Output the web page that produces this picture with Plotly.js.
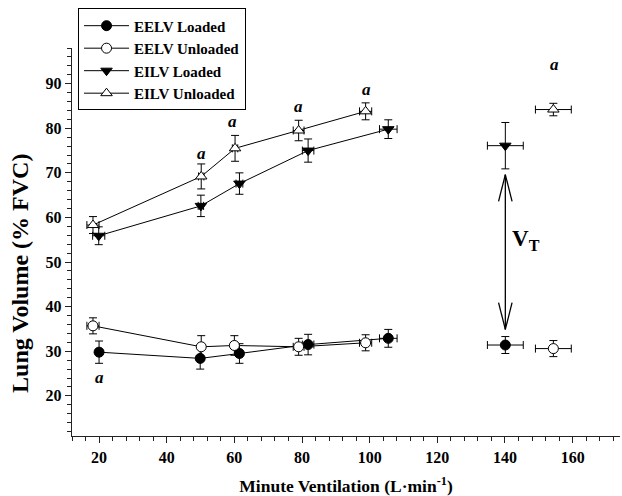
<!DOCTYPE html>
<html>
<head>
<meta charset="utf-8">
<script src="https://cdn.plot.ly/plotly-3.0.1.min.js"></script>
<style>html,body{margin:0;padding:0;background:#fff}#chart{width:622px;height:496px}</style>
</head>
<body>
<div id="chart"></div>
<script>
// ---- data ----
const seriesNames = ["EELV Loaded", "EELV Unloaded", "EILV Loaded", "EILV Unloaded"];

const eelvLoadedX   = [20.0, 49.9, 61.5, 81.8, 105.5];
const eelvLoadedY   = [29.8, 28.4, 29.5, 31.5, 32.9];
const eelvLoadedYErr = [2.5, 2.4, 2.2, 2.3, 2.0];
const eelvLoadedXErr = [0.6, 0.6, 0.8, 1.7, 2.6];

const eelvUnloadedX = [18.2, 50.2, 60.0, 79.0, 98.8];
const eelvUnloadedY = [35.7, 31.0, 31.3, 31.0, 31.9];
const eelvUnloadedYErr = [1.8, 2.5, 2.2, 1.9, 1.8];
const eelvUnloadedXErr = [1.8, 0.6, 0.8, 1.6, 1.8];

const eilvLoadedX   = [19.9, 50.1, 61.5, 81.8, 105.5];
const eilvLoadedY   = [55.9, 62.6, 67.6, 75.0, 79.8];
const eilvLoadedYErr = [2.0, 2.4, 2.4, 2.6, 2.1];
const eilvLoadedXErr = [1.8, 0.8, 1.0, 1.7, 2.6];

const eilvUnloadedX = [18.2, 50.2, 60.2, 79.0, 98.8];
const eilvUnloadedY = [58.3, 69.2, 75.5, 79.5, 83.8];
const eilvUnloadedYErr = [1.9, 2.8, 2.9, 2.3, 1.9];
const eilvUnloadedXErr = [1.8, 0.8, 0.8, 1.6, 1.8];

// isolated (separate) points at high ventilation
const eelvLoadedSoloX = [140.1], eelvLoadedSoloY = [31.4], eelvLoadedSoloYErr = [1.9], eelvLoadedSoloXErr = [5.3];
const eelvUnloadedSoloX = [154.3], eelvUnloadedSoloY = [30.6], eelvUnloadedSoloYErr = [1.8], eelvUnloadedSoloXErr = [5.3];
const eilvLoadedSoloX = [140.1], eilvLoadedSoloY = [76.1], eilvLoadedSoloYErr = [5.2], eilvLoadedSoloXErr = [5.3];
const eilvUnloadedSoloX = [154.3], eilvUnloadedSoloY = [84.2], eilvUnloadedSoloYErr = [1.4], eilvUnloadedSoloXErr = [5.3];

// significance markers "a"
const sigX = [20.0, 50.2, 59.5, 79.0, 99.2, 154.6];
const sigY = [24.1, 74.3, 81.5, 84.9, 88.7, 94.3];

// tidal volume arrow
const vtArrowX = 140.1;
const vtArrowBottom = 34.9;
const vtArrowTop = 69.6;
const vtLabel = "V<sub>T</sub>";

const xTitle = "Minute Ventilation (L·min<sup>-1</sup>)";
const yTitle = "Lung Volume (% FVC)";

// ---- styling ----
const serif = "Liberation Serif, Times New Roman, serif";
const styles = [
  {symbol: "circle", fill: "#000"},
  {symbol: "circle", fill: "#fff"},
  {symbol: "triangle-down", fill: "#000"},
  {symbol: "triangle-up", fill: "#fff"}
];
const mainX = [eelvLoadedX, eelvUnloadedX, eilvLoadedX, eilvUnloadedX];
const mainY = [eelvLoadedY, eelvUnloadedY, eilvLoadedY, eilvUnloadedY];
const mainYE = [eelvLoadedYErr, eelvUnloadedYErr, eilvLoadedYErr, eilvUnloadedYErr];
const mainXE = [eelvLoadedXErr, eelvUnloadedXErr, eilvLoadedXErr, eilvUnloadedXErr];
const soloX = [eelvLoadedSoloX, eelvUnloadedSoloX, eilvLoadedSoloX, eilvUnloadedSoloX];
const soloY = [eelvLoadedSoloY, eelvUnloadedSoloY, eilvLoadedSoloY, eilvUnloadedSoloY];
const soloYE = [eelvLoadedSoloYErr, eelvUnloadedSoloYErr, eilvLoadedSoloYErr, eilvUnloadedSoloYErr];
const soloXE = [eelvLoadedSoloXErr, eelvUnloadedSoloXErr, eilvLoadedSoloXErr, eilvUnloadedSoloXErr];

function errY(a){return {type:"data", array:a, visible:true, color:"#000", thickness:1, width:4};}
function errX(a){return {type:"data", array:a, visible:true, color:"#000", thickness:1, width:4};}

const traces = [];
for (let i = 0; i < 4; i++) {
  traces.push({
    type: "scatter", mode: "lines+markers", name: seriesNames[i],
    x: mainX[i], y: mainY[i],
    error_y: errY(mainYE[i]), error_x: errX(mainXE[i]),
    line: {color: "#000", width: 1},
    marker: {symbol: styles[i].symbol, size: 10, color: styles[i].fill, line: {color: "#000", width: 1}}
  });
  traces.push({
    type: "scatter", mode: "markers", name: seriesNames[i], showlegend: false,
    x: soloX[i], y: soloY[i],
    error_y: errY(soloYE[i]), error_x: errX(soloXE[i]),
    marker: {symbol: styles[i].symbol, size: 10, color: styles[i].fill, line: {color: "#000", width: 1}}
  });
}

const annotations = sigX.map((x, k) => ({
  x: x, y: sigY[k], xref: "x", yref: "y", text: "a", showarrow: false,
  font: {family: serif, size: 17, weight: "bold", style: "italic", color: "#000"}
}));
annotations.push({
  x: vtArrowX + 1.3, y: 55, xref: "x", yref: "y", text: vtLabel, showarrow: false,
  xanchor: "left",
  font: {family: serif, size: 23, weight: "bold", color: "#000"}
});
// y-axis title drawn as rotated annotation (sits lower than plot centre in the reference)
annotations.push({
  x: -0.095, y: 0.42, xref: "paper", yref: "paper", text: yTitle, showarrow: false,
  textangle: -90, xanchor: "center", yanchor: "middle",
  font: {family: serif, size: 24, weight: "bold", color: "#000"}
});

// arrow shapes (vertical shaft plus open V heads)
const headDX = 2.0, headDY = 6.0;
const shapes = [
  {type: "line", xref: "x", yref: "y", x0: vtArrowX, x1: vtArrowX, y0: vtArrowBottom, y1: vtArrowTop, line: {color: "#000", width: 1.3}},
  {type: "line", xref: "x", yref: "y", x0: vtArrowX - headDX, x1: vtArrowX, y0: vtArrowTop - headDY, y1: vtArrowTop, line: {color: "#000", width: 1.3}},
  {type: "line", xref: "x", yref: "y", x0: vtArrowX + headDX, x1: vtArrowX, y0: vtArrowTop - headDY, y1: vtArrowTop, line: {color: "#000", width: 1.3}},
  {type: "line", xref: "x", yref: "y", x0: vtArrowX - headDX, x1: vtArrowX, y0: vtArrowBottom + headDY, y1: vtArrowBottom, line: {color: "#000", width: 1.3}},
  {type: "line", xref: "x", yref: "y", x0: vtArrowX + headDX, x1: vtArrowX, y0: vtArrowBottom + headDY, y1: vtArrowBottom, line: {color: "#000", width: 1.3}}
];

const axisCommon = {
  showgrid: false, zeroline: false, showline: true, linecolor: "#222", linewidth: 1.3,
  ticks: "outside", ticklen: 6, tickwidth: 1, tickcolor: "#222",
  tickfont: {family: serif, size: 16, weight: "bold", color: "#000"},
  tick0: 0
};

const layout = {
  width: 622, height: 496,
  margin: {l: 72, r: 2, t: 48, b: 60},
  paper_bgcolor: "#fff", plot_bgcolor: "#fff",
  showlegend: true,
  legend: {
    x: 0.011, y: 1.102, xanchor: "left", yanchor: "top",
    bgcolor: "#fff", bordercolor: "#000", borderwidth: 1,
    font: {family: serif, size: 15, weight: "bold", color: "#000"},
    tracegroupgap: 0, itemwidth: 45
  },
  xaxis: Object.assign({}, axisCommon, {
    range: [12, 174], dtick: 20,
    minor: {dtick: 4, tick0: 0, ticks: "outside", ticklen: 4, tickcolor: "#222"},
    title: {text: xTitle, standoff: 15,
            font: {family: serif, size: 17.5, weight: "bold", color: "#000"}}
  }),
  yaxis: Object.assign({}, axisCommon, {
    range: [11, 98], dtick: 10,
    minor: {dtick: 2, tick0: 0, ticks: "outside", ticklen: 4, tickcolor: "#222"}
  }),
  annotations: annotations,
  shapes: shapes
};

Plotly.newPlot("chart", traces, layout, {staticPlot: true, displayModeBar: false});
</script>
</body>
</html>
